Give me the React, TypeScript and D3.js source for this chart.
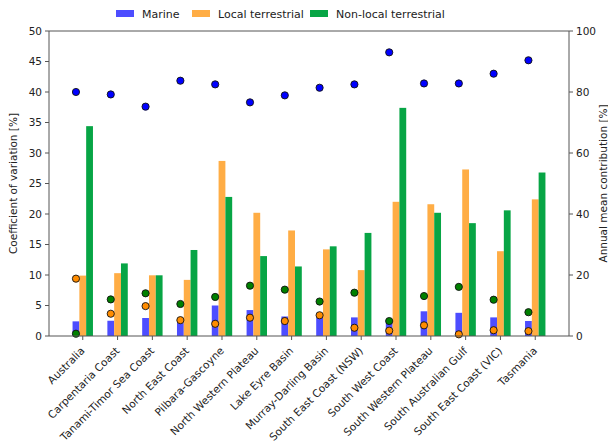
import React from "react";
import * as d3 from "d3";

const categories = [
  "Australia", "Carpentaria Coast", "Tanami-Timor Sea Coast", "North East Coast",
  "Pilbara-Gascoyne", "North Western Plateau", "Lake Eyre Basin", "Murray-Darling Basin",
  "South East Coast (NSW)", "South West Coast", "South Western Plateau",
  "South Australian Gulf", "South East Coast (VIC)", "Tasmania",
];
const marineCV = [2.4, 2.5, 2.95, 2.2, 5.0, 4.25, 3.2, 3.0, 3.05, 2.7, 4.05, 3.8, 3.05, 2.46];
const localCV = [9.9, 10.3, 9.95, 9.2, 28.7, 20.2, 17.3, 14.2, 10.8, 22.0, 21.6, 27.3, 13.9, 22.4];
const nonlocalCV = [34.4, 11.9, 9.95, 14.1, 22.8, 13.1, 11.4, 14.7, 16.9, 37.4, 20.2, 18.5, 20.6, 26.8];
const marineContrib = [80.0, 79.2, 75.2, 83.7, 82.5, 76.6, 78.9, 81.4, 82.5, 93.0, 82.8, 82.8, 86.0, 90.4];
const localContrib = [18.8, 7.3, 9.8, 5.2, 4.0, 6.0, 4.9, 6.8, 2.7, 1.75, 3.5, 0.55, 1.9, 1.6];
const nonlocalContrib = [0.75, 12.0, 14.0, 10.5, 12.8, 16.5, 15.2, 11.3, 14.2, 4.9, 13.1, 16.1, 11.9, 7.8];
const leftTicks = [0, 5, 10, 15, 20, 25, 30, 35, 40, 45, 50];
const rightTicks = [0, 20, 40, 60, 80, 100];
const seriesNames = ["Marine", "Local terrestrial", "Non-local terrestrial"];

const W = 608, H = 443;
const L = 49, R = 569, T = 31, B = 336;
const barColors = ["#4d4dff", "#ffad45", "#07a545"];
const dotColors = ["#0000ff", "#ff8c00", "#008000"];
const font = "DejaVu Sans, sans-serif";
const axisColor = "#555";

export default function App() {
  const x = d3.scalePoint<string>().domain(categories).range([L, R]).padding(0.97);
  const yL = d3.scaleLinear().domain([0, 50]).range([B, T]);
  const yR = d3.scaleLinear().domain([0, 100]).range([B, T]);
  const bw = 6.8;
  const cvSeries = [marineCV, localCV, nonlocalCV];
  const contribSeries = [nonlocalContrib, localContrib, marineContrib];
  const contribColors = [dotColors[2], dotColors[1], dotColors[0]];

  return (
    <svg width={W} height={H} style={{ position: "absolute", left: 0, top: 0, background: "#fff" }}
      fontFamily={font}>
      {/* legend */}
      {seriesNames.map((n, i) => {
        const lx = [116, 192, 310][i];
        return (
          <g key={n}>
            <rect x={lx} y={10} width={18} height={7} fill={barColors[i]} />
            <text x={lx + 26} y={18} fontSize={11} fill="#222">{n}</text>
          </g>
        );
      })}
      {/* bars */}
      {cvSeries.map((s, si) =>
        s.map((v, i) => {
          const cx = (x(categories[i]) as number) + (si - 1) * bw;
          return (
            <rect key={`b${si}-${i}`} x={cx - bw / 2} y={yL(v)} width={bw} height={B - yL(v)}
              fill={barColors[si]} />
          );
        })
      )}
      {/* dots */}
      {contribSeries.map((s, si) =>
        s.map((v, i) => (
          <circle key={`d${si}-${i}`} cx={(x(categories[i]) as number) - bw} cy={yR(v)} r={3.6}
            fill={contribColors[si]} stroke="#111" strokeWidth={0.9} />
        ))
      )}
      {/* frame */}
      <line x1={L} x2={R} y1={T} y2={T} stroke={axisColor} strokeWidth={1} />
      <line x1={L} x2={R} y1={B} y2={B} stroke={axisColor} strokeWidth={1} />
      <line x1={L} x2={L} y1={T} y2={B} stroke={axisColor} strokeWidth={1} />
      <line x1={R} x2={R} y1={T} y2={B} stroke={axisColor} strokeWidth={1} />
      {/* left ticks */}
      {leftTicks.map((t) => (
        <g key={`l${t}`}>
          <line x1={L - 4} x2={L} y1={yL(t)} y2={yL(t)} stroke={axisColor} />
          <text x={L - 7} y={yL(t)} dy="0.35em" textAnchor="end" fontSize={10.5} fill="#222">{t}</text>
        </g>
      ))}
      {/* right ticks */}
      {rightTicks.map((t) => (
        <g key={`r${t}`}>
          <line x1={R} x2={R + 4} y1={yR(t)} y2={yR(t)} stroke={axisColor} />
          <text x={R + 7} y={yR(t)} dy="0.35em" textAnchor="start" fontSize={10.5} fill="#222">{t}</text>
        </g>
      ))}
      {/* x ticks and labels */}
      {categories.map((c) => {
        const cx = x(c) as number;
        return (
          <g key={c}>
            <line x1={cx} x2={cx} y1={B} y2={B + 4} stroke={axisColor} />
            <text transform={`translate(${cx - 2},${B + 11}) rotate(-45)`} textAnchor="end"
              dy="0.6em" fontSize={10.6} fill="#222">{c}</text>
          </g>
        );
      })}
      {/* axis titles */}
      <text transform={`translate(17,${(T + B) / 2}) rotate(-90)`} textAnchor="middle" fontSize={10.5}
        fill="#222">Coefficient of variation [%]</text>
      <text transform={`translate(607,${(T + B) / 2}) rotate(-90)`} textAnchor="middle" fontSize={10.5}
        fill="#222">Annual mean contribution [%]</text>
    </svg>
  );
}
